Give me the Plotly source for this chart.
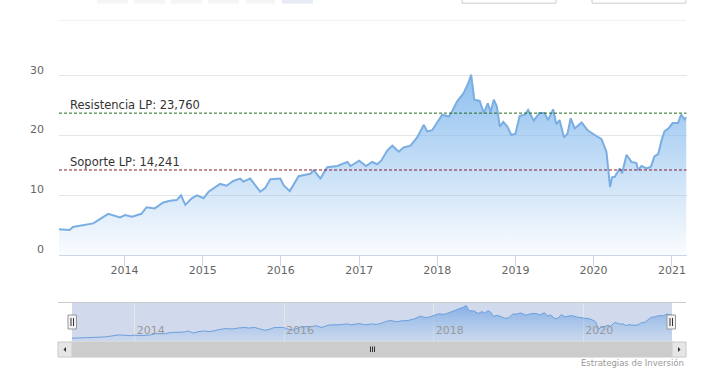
import plotly.graph_objects as go

# ---------------- data ----------------
dates = [
    "2013-03-01", "2013-04-20", "2013-05-05", "2013-08-08", "2013-09-08", "2013-10-17",
    "2013-12-11", "2014-01-04", "2014-02-05", "2014-03-21", "2014-04-14", "2014-05-22",
    "2014-07-01", "2014-08-02", "2014-09-02", "2014-09-22", "2014-10-12", "2014-11-11",
    "2014-12-05", "2015-01-05", "2015-01-29", "2015-02-21", "2015-03-23", "2015-04-23",
    "2015-05-24", "2015-06-25", "2015-07-10", "2015-08-11", "2015-09-04", "2015-09-27",
    "2015-10-20", "2015-11-13", "2015-12-30", "2016-01-14", "2016-02-12", "2016-03-24",
    "2016-05-18", "2016-06-03", "2016-07-04", "2016-08-05", "2016-09-21", "2016-11-07",
    "2016-11-22", "2017-01-01", "2017-02-02", "2017-03-03", "2017-03-26", "2017-04-14",
    "2017-05-12", "2017-06-05", "2017-07-05", "2017-07-28", "2017-08-29", "2017-09-29",
    "2017-10-30", "2017-11-15", "2017-12-08", "2018-01-01", "2018-01-24", "2018-02-24",
    "2018-03-10", "2018-04-03", "2018-05-04", "2018-05-27", "2018-06-08", "2018-06-23",
    "2018-07-18", "2018-08-06", "2018-08-25", "2018-09-07", "2018-09-22", "2018-10-06",
    "2018-10-20", "2018-11-05", "2018-11-24", "2018-12-13", "2019-01-01", "2019-01-21",
    "2019-02-14", "2019-03-01", "2019-03-28", "2019-04-23", "2019-05-17", "2019-06-02",
    "2019-06-26", "2019-07-11", "2019-07-26", "2019-08-16", "2019-09-01", "2019-09-16",
    "2019-10-05", "2019-11-06", "2019-12-04", "2020-01-07", "2020-02-07", "2020-03-01",
    "2020-03-09", "2020-03-18", "2020-03-27", "2020-04-09", "2020-05-02", "2020-05-13",
    "2020-06-03", "2020-06-26", "2020-07-19", "2020-07-27", "2020-08-12", "2020-09-05",
    "2020-09-25", "2020-10-11", "2020-10-29", "2020-11-14", "2020-11-27", "2020-12-16",
    "2021-01-04", "2021-01-29", "2021-02-13", "2021-03-01", "2021-03-10",
]
values = [
    4.3, 4.2, 4.7, 5.3, 6.0, 6.9,
    6.3, 6.7, 6.4, 6.9, 8.0, 7.8,
    8.8, 9.1, 9.2, 10.0, 8.4, 9.5,
    10.0, 9.5, 10.6, 11.2, 11.9, 11.6,
    12.4, 12.8, 12.3, 12.8, 11.6, 10.6,
    11.2, 12.7, 12.8, 11.7, 10.7, 13.2,
    13.6, 14.2, 12.8, 14.7, 14.9, 15.6,
    14.9, 15.8, 14.9, 15.6, 15.2, 15.8,
    17.5, 18.3, 17.3, 18.0, 18.3, 19.7,
    21.8, 20.7, 20.9, 22.2, 23.5, 23.2,
    24.0, 25.7, 27.1, 28.9, 30.2, 26.0,
    25.8, 23.8, 25.4, 24.0, 26.0, 24.9,
    21.5, 22.3, 21.5, 20.1, 20.3, 23.3,
    23.5, 24.3, 22.5, 23.8, 23.8, 22.6,
    24.4, 21.9, 22.6, 19.7, 20.3, 22.9,
    21.2, 22.2, 20.9, 20.1, 19.4, 17.3,
    14.8, 11.4, 13.0, 13.1, 14.5, 13.7,
    16.8, 15.6, 15.4, 14.2, 14.9, 14.5,
    14.8, 16.5, 16.9, 19.3, 20.7, 21.2,
    22.1, 22.1, 23.5, 22.7, 23.1,
]
resistance = 23.760
support = 14.241
res_label = "Resistencia LP: 23,760"
sup_label = "Soporte LP: 14,241"
y_ticks = [0, 10, 20, 30]
credit = "Estrategias de Inversión"

# ---------------- geometry helpers ----------------
W, H = 708, 381
ML, MR = 59, 21
PW = W - ML - MR
FONT = "DejaVu Sans"


def px(x):
    return (x - ML) / PW


def py(y):
    return (H - y) / H


LINE = "#7aaee3"

fig = go.Figure()

fig.add_trace(go.Scatter(
    x=dates, y=values, xaxis="x", yaxis="y", mode="lines",
    line=dict(color=LINE, width=2),
    fill="tozeroy",
    fillgradient=dict(type="vertical",
                      colorscale=[[0, "rgba(124,181,236,0.04)"], [1, "rgba(124,181,236,0.85)"]],
                      start=0, stop=30),
    hoverinfo="skip", showlegend=False,
))

fig.add_trace(go.Scatter(
    x=dates, y=values, xaxis="x2", yaxis="y2", mode="lines",
    line=dict(color="#6c9fdc", width=1),
    fill="tozeroy",
    fillgradient=dict(type="vertical",
                      colorscale=[[0, "rgba(124,181,236,0.05)"], [1, "rgba(110,160,225,0.75)"]],
                      start=1.3, stop=30),
    hoverinfo="skip", showlegend=False,
))

shapes = []
# reference lines
shapes.append(dict(type="line", xref="paper", yref="y", x0=0, x1=px(686.5), y0=resistance, y1=resistance,
                   line=dict(color="#1e6b1e", width=1, dash="3px,2px")))
shapes.append(dict(type="line", xref="paper", yref="y", x0=0, x1=px(686.5), y0=support, y1=support,
                   line=dict(color="#8a1c2c", width=1, dash="3px,2px")))

# range selector remnants at top
for i, (a, b) in enumerate([(97, 128), (134, 165), (171, 202), (208, 239), (246, 275), (282, 313)]):
    shapes.append(dict(type="rect", xref="paper", yref="paper", x0=px(a), x1=px(b), y0=py(3.6), y1=py(-3),
                       fillcolor="#e6ebf5" if i == 5 else "#f5f5f5", line=dict(width=0)))
for a, b in [(462, 556), (592, 686)]:
    shapes.append(dict(type="rect", xref="paper", yref="paper", x0=px(a), x1=px(b), y0=py(3.2), y1=py(-5),
                       fillcolor="white", line=dict(color="#cccccc", width=1)))
shapes.append(dict(type="line", xref="paper", yref="paper", x0=px(59), x1=px(686), y0=py(20.5), y1=py(20.5),
                   line=dict(color="#f0f0f0", width=1)))

# navigator outline + mask
shapes.append(dict(type="line", xref="paper", yref="paper", x0=px(58), x1=px(686), y0=py(302.5), y1=py(302.5),
                   line=dict(color="#cccccc", width=1)))
shapes.append(dict(type="rect", xref="paper", yref="paper", x0=px(72), x1=px(672), y0=py(342), y1=py(302.5),
                   fillcolor="rgba(102,133,194,0.3)", line=dict(width=0), layer="between"))

# scrollbar
shapes.append(dict(type="rect", xref="paper", yref="paper", x0=px(58), x1=px(686), y0=py(357), y1=py(342),
                   fillcolor="#f2f2f2", line=dict(color="#f2f2f2", width=1)))
shapes.append(dict(type="rect", xref="paper", yref="paper", x0=px(72), x1=px(672), y0=py(357), y1=py(342),
                   fillcolor="#cccccc", line=dict(color="#cccccc", width=1)))
for a, b in [(58, 72), (672, 686)]:
    shapes.append(dict(type="rect", xref="paper", yref="paper", x0=px(a), x1=px(b), y0=py(357), y1=py(342),
                       fillcolor="#e6e6e6", line=dict(color="#cccccc", width=1)))
# arrows
shapes.append(dict(type="path", xref="paper", yref="paper",
                   path=f"M {px(63.5)} {py(349.5)} L {px(66)} {py(347)} L {px(66)} {py(352)} Z",
                   fillcolor="#333333", line=dict(width=0)))
shapes.append(dict(type="path", xref="paper", yref="paper",
                   path=f"M {px(680.5)} {py(349.5)} L {px(678)} {py(347)} L {px(678)} {py(352)} Z",
                   fillcolor="#333333", line=dict(width=0)))
# rifles
for xr in (370.5, 372.5, 374.5):
    shapes.append(dict(type="line", xref="paper", yref="paper", x0=px(xr), x1=px(xr), y0=py(352), y1=py(346.5),
                       line=dict(color="#333333", width=1)))

# handles
for a in (68, 667):
    shapes.append(dict(type="rect", xref="paper", yref="paper", x0=px(a), x1=px(a + 8.5), y0=py(329), y1=py(315),
                       fillcolor="#f2f2f2", line=dict(color="#999999", width=1)))
    for d in (3, 5.5):
        shapes.append(dict(type="line", xref="paper", yref="paper", x0=px(a + d), x1=px(a + d),
                           y0=py(326), y1=py(318), line=dict(color="#333333", width=1)))

annotations = [
    dict(x=px(68), xref="paper", y=resistance, yref="y", xanchor="left", yanchor="bottom",
         text=res_label, showarrow=False, font=dict(family=FONT, size=11.5, color="#333333"), yshift=-1),
    dict(x=px(68), xref="paper", y=support, yref="y", xanchor="left", yanchor="bottom",
         text=sup_label, showarrow=False, font=dict(family=FONT, size=11.5, color="#333333"), yshift=-1),
    dict(x=px(686), xref="paper", y=py(362.5), yref="paper", xanchor="right", yanchor="middle",
         text=credit, showarrow=False, font=dict(family=FONT, size=8.5, color="#999999")),
]

fig.update_layout(
    width=W, height=H,
    margin=dict(l=ML, r=MR, t=0, b=0, autoexpand=False),
    paper_bgcolor="white", plot_bgcolor="rgba(0,0,0,0)",
    font=dict(family=FONT, size=11, color="#666666"),
    showlegend=False,
    shapes=shapes, annotations=annotations,
    xaxis=dict(domain=[0, px(686.5)], anchor="y", range=[dates[0], dates[-1]],
               type="date", tick0="2014-01-01", dtick="M12", tickformat="%Y",
               ticks="outside", ticklen=10, tickcolor="#ccd6eb", tickwidth=1, automargin=False,
               ticklabelstandoff=-5,
               showline=True, linecolor="#ccd6eb", linewidth=1, showgrid=False, zeroline=False,
               tickfont=dict(family=FONT, size=11, color="#666666")),
    yaxis=dict(domain=[py(255), py(72.9)], anchor="x", range=[0, 30.5], automargin=False,
               tickvals=y_ticks, showgrid=True, gridcolor="#e6e6e6", zeroline=False, showline=False,
               ticks="", ticklabelstandoff=14, ticklabelshift=-6,
               tickfont=dict(family=FONT, size=11, color="#666666")),
    xaxis2=dict(domain=[px(72), px(672)], anchor="y2", range=[dates[0], dates[-1]],
                type="date", tick0="2014-01-01", dtick="M24", tickformat="%Y", automargin=False,
                ticks="", showgrid=True, gridcolor="#e6e6e6", showline=False, zeroline=False,
                ticklabelposition="inside right", ticklabelshift=2,
                tickfont=dict(family=FONT, size=11, color="#999999")),
    yaxis2=dict(domain=[py(342), py(302.5)], anchor="x2", range=[1.3, 32.5], automargin=False,
                showgrid=False, showticklabels=False, zeroline=False, showline=False, ticks=""),
)

fig.write_html("out.html", config={"displayModeBar": False},
               post_script="document.body.style.margin='0';document.body.style.overflow='hidden';")
